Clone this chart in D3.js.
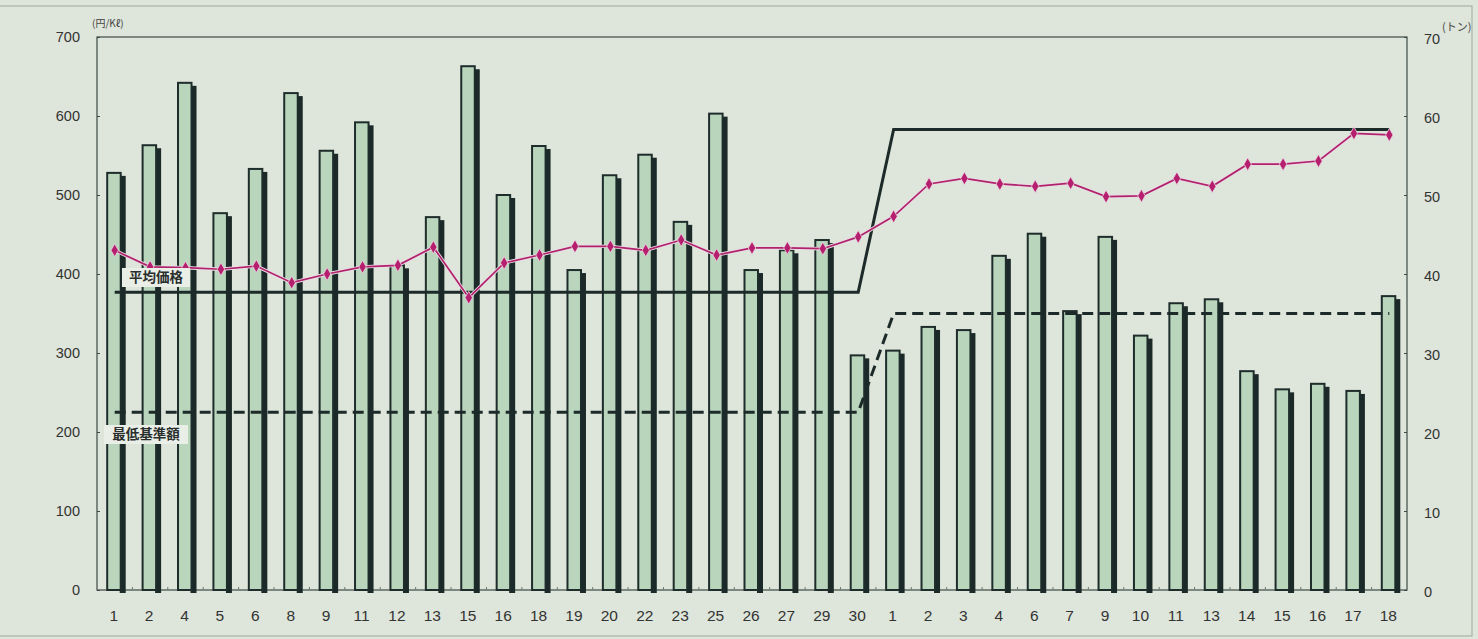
<!DOCTYPE html>
<html>
<head>
<meta charset="utf-8">
<script src="https://cdn.jsdelivr.net/npm/d3@7"></script>
<style>
  body { margin: 0; background: #dee5da; }
  svg { display: block; }
</style>
</head>
<body>
<svg id="chart" width="1478" height="639"></svg>
<script>
// day labels (two months in a row)
const dayLabels = ["1","2","4","5","6","8","9","11","12","13","15","16","18","19","20","22","23","25","26","27","29","30",
                   "1","2","3","4","6","7","9","10","11","13","14","15","16","17","18"];
// bars, tonnes (right axis)
const tonnage = [52.8,56.3,64.2,47.7,53.3,62.9,55.6,59.2,41.1,47.2,66.3,50.0,56.2,40.5,52.5,55.1,46.6,60.3,40.5,43.0,44.3,29.7,
                 30.3,33.3,32.9,42.3,45.1,35.3,44.7,32.2,36.3,36.8,27.7,25.4,26.1,25.2,37.2];
// price per day, yen (left axis)
const dailyPrice = [430,409,408,406,410,389,400,409,411,434,370,414,424,435,435,430,443,424,433,433,432,447,
                    473,514,521,514,511,515,498,499,521,511,539,539,543,578,576];
// step lines: category index -> yen
const stepIdx = [0,21,22,36];
const avgPrice = [377,377,583,583];
const minBase = [225,225,350,350];

const yTicks = [0,100,200,300,400,500,600,700];
const y2Ticks = [0,10,20,30,40,50,60,70];

const svg = d3.select("#chart");
const m = {left: 97, right: 1407, top: 37, bottom: 590};

// faint scan border
svg.append("rect").attr("x", -2).attr("y", 6).attr("width", 1474).attr("height", 630)
    .attr("fill", "none").attr("stroke", "#a9b2a8").attr("stroke-width", 1.2);

const x = d3.scaleBand().domain(d3.range(dayLabels.length)).range([m.left, m.right]);
const y = d3.scaleLinear().domain([0, 700]).range([m.bottom, m.top]);
const y2 = d3.scaleLinear().domain([0, 70]).range([m.bottom, m.top]);
const cx = i => x(i) + x.bandwidth() / 2;

// frame
svg.append("rect").attr("x", m.left).attr("y", m.top)
    .attr("width", m.right - m.left).attr("height", m.bottom - m.top)
    .attr("fill", "none").attr("stroke", "#3d4a47").attr("stroke-width", 1.2);

// left axis
const yAxis = svg.append("g").attr("transform", `translate(${m.left},0)`)
    .call(d3.axisRight(y).tickValues(yTicks).tickSize(3).tickFormat(""));
yAxis.select(".domain").remove();
yAxis.selectAll("line").attr("stroke", "#3d4a47");
svg.append("g").selectAll("text").data(yTicks).join("text")
    .attr("x", 80).attr("y", d => y(d)).attr("dy", "0.36em")
    .attr("text-anchor", "end").attr("font-family", "Liberation Sans, Arial, sans-serif")
    .attr("font-size", 14.5).attr("fill", "#333").text(d => d);

// right axis
const y2Axis = svg.append("g").attr("transform", `translate(${m.right},0)`)
    .call(d3.axisLeft(y2).tickValues(y2Ticks).tickSize(3).tickFormat(""));
y2Axis.select(".domain").remove();
y2Axis.selectAll("line").attr("stroke", "#3d4a47");
svg.append("g").selectAll("text").data(y2Ticks).join("text")
    .attr("x", 1424).attr("y", d => y2(d) + 2).attr("dy", "0.36em")
    .attr("font-family", "Liberation Sans, Arial, sans-serif")
    .attr("font-size", 14.5).attr("fill", "#333").text(d => d);

// units
svg.append("text").attr("x", 92).attr("y", 27).attr("font-size", 10)
    .attr("font-family", "Noto Sans CJK JP, sans-serif").attr("fill", "#444").text("(円/Kℓ)");
svg.append("text").attr("x", 1442).attr("y", 31).attr("font-size", 11)
    .attr("font-family", "Noto Sans CJK JP, sans-serif").attr("fill", "#444").text("(トン)");

// small ticks on baseline between bars
svg.append("g").selectAll("line").data(d3.range(1, dayLabels.length)).join("line")
    .attr("x1", i => x(i)).attr("x2", i => x(i))
    .attr("y1", m.bottom).attr("y2", m.bottom - 3)
    .attr("stroke", "#6c7a70").attr("stroke-width", 1);

// x labels
svg.append("g").selectAll("text").data(dayLabels).join("text")
    .attr("x", (d, i) => cx(i) - 1).attr("y", 621)
    .attr("text-anchor", "middle")
    .attr("font-family", "Liberation Sans Narrow, Arial Narrow, sans-serif")
    .attr("font-size", 15.5).attr("fill", "#333").text(d => d);

// bars: shadow then bar
const bars = svg.append("g");
bars.selectAll(".shadow").data(tonnage).join("rect").attr("class", "shadow")
    .attr("x", (d, i) => cx(i) + 5).attr("width", 6)
    .attr("y", d => y2(d) + 3).attr("height", d => m.bottom + 3 - y2(d) - 3)
    .attr("fill", "#1b2a28");
bars.selectAll(".bar").data(tonnage).join("rect").attr("class", "bar")
    .attr("x", (d, i) => cx(i) - 7.5).attr("width", 13.5)
    .attr("y", d => y2(d)).attr("height", d => m.bottom - y2(d))
    .attr("fill", "#b9d6bd").attr("stroke", "#1e2d2b").attr("stroke-width", 2);

// solid and dashed step lines
const stepLine = vals => d3.line().x((d, k) => cx(stepIdx[k])).y(d => y(d))(vals);
svg.append("path").attr("d", stepLine(avgPrice))
    .attr("fill", "none").attr("stroke", "#1c2b29").attr("stroke-width", 3);
svg.append("path").attr("d", stepLine(minBase))
    .attr("fill", "none").attr("stroke", "#1c2b29").attr("stroke-width", 3)
    .attr("stroke-dasharray", "11,6");

// daily price line with diamonds
const priceLine = d3.line().x((d, i) => cx(i)).y(d => y(d));
svg.append("path").attr("d", priceLine(dailyPrice))
    .attr("fill", "none").attr("stroke", "#eadde4").attr("stroke-width", 3.4);
svg.append("path").attr("d", priceLine(dailyPrice))
    .attr("fill", "none").attr("stroke", "#b0226c").attr("stroke-width", 1.7);
svg.append("g").selectAll("path").data(dailyPrice).join("path")
    .attr("transform", (d, i) => `translate(${cx(i)},${y(d)})`)
    .attr("d", d3.symbol(d3.symbolDiamond, 48))
    .attr("fill", "#b51f6e").attr("stroke", "#e9d6e2").attr("stroke-width", 0.8);

// labels
function tag(txt, x0, y0, w, h) {
    svg.append("rect").attr("x", x0).attr("y", y0).attr("width", w).attr("height", h)
        .attr("fill", "#e9eee6");
    svg.append("text").attr("x", x0 + w / 2).attr("y", y0 + h / 2).attr("dy", "0.36em")
        .attr("text-anchor", "middle").attr("font-size", 13.5).attr("font-weight", "bold")
        .attr("font-family", "Noto Sans CJK JP, sans-serif").attr("fill", "#2a2f2e").text(txt);
}
tag("平均価格", 122, 268, 68, 19);
tag("最低基準額", 104, 425, 84, 19);
</script>
</body>
</html>
